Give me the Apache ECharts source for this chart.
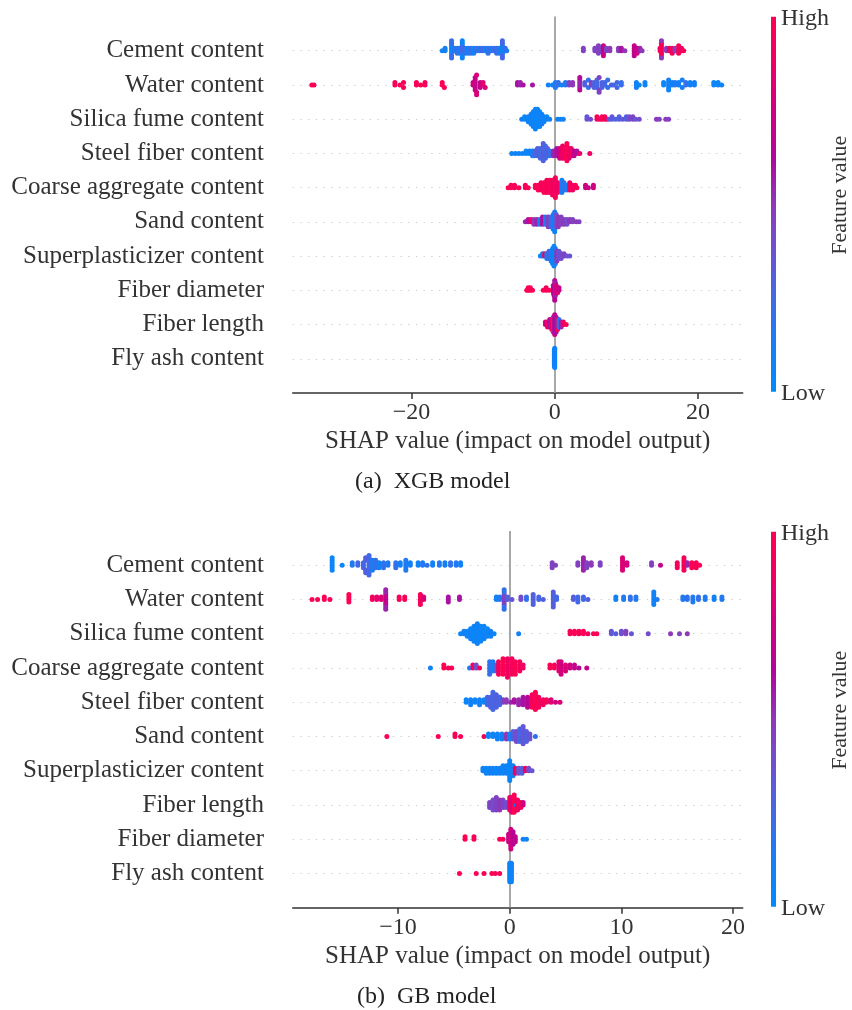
<!DOCTYPE html>
<html><head><meta charset="utf-8">
<script src="https://cdn.jsdelivr.net/npm/echarts@6/dist/echarts.min.js"></script>
<style>html,body{margin:0;padding:0;background:#fff}#main{width:852px;height:1010px}</style>
</head><body><div id="main"></div>
<script>
// ---------- labels ----------
const xgbFeatures = ['Cement content','Water content','Silica fume content','Steel fiber content','Coarse aggregate content','Sand content','Superplasticizer content','Fiber diameter','Fiber length','Fly ash content'];
const gbFeatures = ['Cement content','Water content','Silica fume content','Coarse aggregate content','Steel fiber content','Sand content','Superplasticizer content','Fiber length','Fiber diameter','Fly ash content'];
const xgbTicks = [-20, 0, 20];
const gbTicks = [-10, 0, 10, 20];
const xgbRange = [-36.57, 26.24];
const gbRange = [-19.43, 20.86];
const axisTitle = 'SHAP value (impact on model output)';
const captions = ['(a)\u2002XGB model', '(b)\u2002GB model'];
const colorbarLabels = ['High', 'Low', 'Feature value'];
const colorStops = ['#008bfc','#187ef5','#4468e5','#6c52d2','#8f38b8','#b0079c','#d0007f','#ec0066','#ff0052'];

// ---------- data: [SHAP value, normalised feature value, number of samples] ----------
const xgbCement = [[-15.7,.08,1],[-15.3,.12,2],[-14.4,.05,4],[-14.4,.22,4],[-14.0,.15,2],[-13.6,.22,3],[-13.2,.08,3],[-12.9,.25,4],[-12.9,.08,4],[-12.5,.2,3],[-12.1,.1,3],[-11.7,.22,3],[-11.3,.08,3],[-10.9,.2,2],[-10.5,.15,2],[-10.1,.25,2],[-9.7,.1,2],[-9.3,.2,3],[-8.9,.15,2],[-8.5,.22,2],[-8.1,.2,3],[-7.7,.15,3],[-7.3,.1,4],[-7.3,.25,4],[-6.9,.2,2],[-6.7,.15,1],
  [4.0,.45,2],[5.6,.45,2],[6.1,.45,4],[6.5,.45,2],[6.8,.72,5],[7.2,.45,2],[7.7,.5,2],[8.9,.5,2],[9.3,.6,2],[9.8,.5,1],[11.1,.68,5],[11.5,.75,3],[11.9,.55,2],[12.2,.5,1],[14.7,.92,2],[14.9,.97,6],[14.9,.5,2],[15.6,.5,2],[16.0,.9,2],[16.4,.97,3],[16.8,.45,2],[17.3,.97,4],[17.7,.9,2],[18.0,.97,1]];
const xgbWater = [[-33.9,1,1],[-33.6,.95,1],[-22.3,.95,2],[-21.6,1,1],[-21.1,.95,2],[-19.3,.95,2],[-18.7,1,1],[-18.1,.95,2],[-15.7,1,2],[-15.4,.95,1],
  [-11.4,.75,2],[-11.1,.7,6],[-10.9,.8,3],[-10.4,.7,3],[-10.0,.85,2],[-9.7,.8,1],[-5.2,.6,2],[-4.8,.55,2],[-4.4,.6,1],[-3.1,.6,1],
  [-0.9,.1,1],[-0.3,.1,1],[0.1,.15,2],[0.5,.2,2],[1.0,.1,1],[1.5,.15,2],[2.0,.45,2],[2.5,.5,2],[3.5,.55,4],[3.5,.65,2],
  [4.2,.3,2],[4.7,.2,2],[5.1,.45,2],[5.5,.3,3],[5.9,.25,4],[6.2,.45,3],[6.6,.3,3],[7.0,.25,2],[7.4,.2,2],[7.9,.3,1],[8.2,.25,1],[8.7,.25,2],[9.3,.2,2],
  [11.4,.1,3],[11.8,.05,1],[12.6,.08,2],[15.2,.05,2],[15.9,.08,5],[16.4,.1,2],[16.8,.15,2],[17.3,.1,2],[17.8,.12,2],[18.3,.2,2],[18.9,.1,2],[19.5,.12,2],[22.2,.05,2],[22.8,.08,2],[23.3,.05,1]];
const xgbSilica = [[-4.6,.1,1],[-4.2,.05,2],[-3.7,.08,3],[-3.3,.05,5],[-3.0,.1,7],[-2.7,.05,9],[-2.4,.08,8],[-2.1,.05,7],[-1.8,.1,5],[-1.5,.08,3],[-1.1,.05,2],[-0.7,.1,1],
  [0.4,.1,1],[0.8,.08,1],[1.2,.1,1],[4.5,.35,2],[5.0,.4,1],[5.9,.95,2],[6.3,.9,1],[6.6,1,2],[7.0,.95,2],[7.3,.9,1],
  [7.6,.3,1],[8.0,.35,2],[8.5,.25,1],[9.0,.3,2],[9.5,.35,1],[10.0,.3,2],[10.4,.4,2],[10.9,.45,2],[11.3,.35,1],[11.8,.4,1],[14.2,.5,1],[14.6,.45,1],[15.5,.5,1],[15.9,.45,1]];
const xgbSteel = [[-6.0,.05,1],[-5.5,.1,1],[-5.0,.05,1],[-4.5,.1,1],[-4.0,.08,2],[-3.5,.1,2],[-3.1,.05,3],
  [-2.8,.25,3],[-2.4,.3,4],[-2.0,.25,5],[-1.6,.3,8],[-1.3,.25,6],[-1.0,.3,4],[-0.7,.2,3],
  [-0.2,.55,3],[0.3,.6,4],[0.7,.75,5],[1.1,.9,6],[1.5,.95,5],[1.7,1,8],[2.0,.85,5],[2.3,.95,4],[2.7,.7,3],[3.1,.6,2],[3.5,.9,1],[4.9,.9,1]];
const xgbCoarse = [[-6.5,.95,1],[-6.1,1,2],[-5.6,.95,2],[-5.0,1,1],[-4.1,.95,2],[-3.7,1,1],
  [-2.7,.95,2],[-2.3,1,3],[-1.9,.9,4],[-1.5,1,5],[-1.1,.95,6],[-0.7,1,6],[-0.3,.9,7],[0.1,.95,9],[0.4,.9,5],
  [1.0,.1,6],[1.3,.2,4],[1.7,.1,3],[2.1,.95,4],[2.5,.9,3],[2.9,1,2],[3.1,.95,1],[4.3,.75,2],[4.7,.7,1],[5.4,.75,2]];
const xgbSand = [[-4.1,.55,1],[-3.7,.6,2],[-3.3,.9,2],[-2.9,.5,3],[-2.5,.55,3],[-2.1,.1,3],[-1.7,.6,4],[-1.3,.15,4],[-0.9,.45,5],[-0.5,.25,5],[-0.2,.05,7],[0.0,.1,9],[0.2,.35,6],[0.5,.5,5],[0.9,.45,4],[1.3,.5,3],[1.7,.4,3],[2.1,.5,2],[2.5,.45,2],[3.0,.5,1],[3.4,.45,1]];
const xgbSuper = [[-2.0,.1,1],[-1.7,.05,2],[-1.4,.95,2],[-1.1,.1,3],[-0.8,.3,4],[-0.5,.05,5],[-0.3,.1,7],[-0.1,.05,9],[0.1,.15,7],[0.3,.5,5],[0.6,.35,4],[0.9,.4,3],[1.3,.45,2],[1.7,.4,1],[2.1,.35,1]];
const xgbFiberDia = [[-3.9,1,1],[-3.7,.95,2],[-3.4,1,2],[-3.1,.95,1],[-1.6,1,1],[-1.2,.95,2],[-0.8,1,1],
  [-0.2,.6,4],[-0.1,.7,5],[0.0,.65,9],[0.1,.55,6],[0.2,.75,4],[0.4,.8,3],[0.6,.7,2]];
const xgbFiberLen = [[-1.3,.75,2],[-1.0,.9,3],[-0.7,.6,4],[-0.4,.95,5],[-0.2,.5,7],[0.0,.7,9],[0.2,.6,7],[0.4,.95,5],[0.6,.15,4],[0.9,.55,3],[1.2,.9,2],[1.6,1,1]];
const xgbFlyAsh = [[-0.05,.05,10],[0.0,.08,12]];

const gbCement = [[-15.9,.05,6],[-15.0,.05,1],[-14.1,.15,2],[-13.6,.25,2],[-13.1,.25,3],[-12.9,.3,4],[-12.6,.25,9],[-12.3,.15,5],[-12.0,.2,4],[-11.7,.1,3],[-11.3,.2,3],[-10.9,.15,2],
  [-10.2,.2,3],[-9.8,.1,2],[-9.3,.15,5],[-8.9,.1,2],[-8.2,.1,2],[-7.8,.15,2],[-7.4,.2,1],[-6.9,.1,2],[-6.3,.15,2],[-5.8,.1,2],[-5.3,.2,2],[-4.8,.15,2],[-4.4,.1,2],
  [3.8,.45,3],[4.1,.45,1],[6.1,.45,2],[6.6,.55,6],[6.9,.45,3],[7.3,.5,2],[8.1,.45,2],[10.1,.8,6],[10.5,.75,2],[12.7,.45,2],[13.5,.7,1],
  [15.0,.95,3],[15.6,.95,6],[15.9,.55,2],[16.3,1,3],[16.7,.95,3],[17.0,1,1]];
const gbWater = [[-17.7,1,1],[-17.2,.95,1],[-16.6,1,2],[-16.1,.95,1],[-14.4,1,4],[-12.3,.95,2],[-11.9,.85,2],[-11.5,.8,2],[-11.1,.7,5],[-11.1,.55,4],[-9.9,1,2],[-9.4,.95,2],[-8.0,.95,5],[-7.7,.8,2],
  [-5.5,.6,3],[-4.5,.6,2],[-1.2,.1,2],[-0.9,.15,2],[-0.5,.45,5],[-0.5,.2,4],[-0.2,.3,2],[0.2,.35,1],
  [1.0,.4,2],[1.5,.2,2],[2.1,.3,5],[2.6,.25,2],[3.0,.3,1],[3.9,.3,7],[4.2,.25,2],[5.7,.3,2],[6.1,.25,3],[6.6,.25,2],[7.0,.3,1],
  [9.5,.1,2],[10.2,.15,2],[10.8,.2,2],[11.3,.15,2],[12.9,.1,6],[13.2,.15,1],[15.5,.15,2],[15.9,.2,2],[16.4,.15,3],[16.9,.2,2],[17.5,.15,2],[18.3,.1,2],[19.0,.15,2]];
const gbSilica = [[-4.4,.05,1],[-4.1,.1,2],[-3.8,.05,3],[-3.5,.08,5],[-3.2,.05,7],[-2.9,.1,9],[-2.6,.05,7],[-2.3,.08,6],[-2.0,.05,4],[-1.7,.1,3],[-1.4,.05,1],[0.8,.1,1],
  [5.4,.95,2],[5.8,1,2],[6.2,.95,2],[6.6,1,2],[7.0,.9,1],[7.5,.95,1],[7.8,1,1],[9.1,.35,2],[9.5,.3,1],[10.0,.4,2],[10.4,.45,2],[10.9,.35,1],[12.4,.4,1],[14.4,.5,1],[15.2,.45,1],[15.9,.5,1]];
const gbCoarse = [[-7.1,.1,1],[-5.9,1,2],[-5.5,.95,1],[-5.2,1,1],[-3.6,.1,1],[-3.3,.95,2],[-3.0,.4,2],[-2.7,1,1],
  [-1.8,.2,5],[-1.5,.1,4],[-1.2,.3,3],[-1.0,.95,5],[-0.6,1,6],[-0.2,.9,7],[0.2,.95,6],[0.5,1,5],[0.9,.95,4],[1.2,.9,2],
  [3.6,1,2],[4.0,.95,2],[4.4,.85,4],[4.6,.75,5],[5.0,.8,3],[5.4,.75,2],[5.8,.7,2],[6.2,.65,1],[6.9,.7,1]];
const gbSteel = [[-3.9,.05,2],[-3.5,.1,3],[-3.1,.05,2],[-2.7,.1,3],[-2.3,.05,2],[-2.0,.25,4],[-1.7,.3,5],[-1.5,.25,8],[-1.2,.3,6],[-0.9,.25,4],
  [-0.6,.45,2],[-0.3,.5,2],[0.1,.55,1],[0.4,.6,2],[0.8,.55,3],[1.2,.6,4],[1.6,.65,5],[2.0,.95,6],[2.3,1,8],[2.6,.95,5],[3.0,.9,3],[3.3,.95,2],[3.7,.8,2],[4.1,.75,1],[4.5,.8,1]];
const gbSand = [[-11.0,1,1],[-6.4,1,1],[-4.9,.95,2],[-4.4,1,1],[-2.3,.95,1],[-1.9,.05,2],[-1.5,.1,2],[-1.1,.05,3],[-0.7,.1,3],[-0.3,.5,3],[0.0,.1,3],
  [0.3,.3,4],[0.6,.4,5],[0.9,.25,6],[1.2,.35,8],[1.5,.3,5],[1.8,.35,3],[2.3,.2,1]];
const gbSuper = [[-2.4,.1,2],[-2.1,.05,3],[-1.8,.1,3],[-1.5,.08,3],[-1.2,.05,3],[-0.9,.1,3],[-0.6,.05,4],[-0.3,.1,4],[0.0,.05,9],[0.3,.1,5],[0.5,.95,3],[0.8,.35,3],[1.1,.3,3],[1.4,.95,2],[1.7,.4,2],[2.0,.35,1]];
const gbFiberLen = [[-1.8,.45,3],[-1.5,.4,5],[-1.2,.45,6],[-0.9,.5,5],[-0.6,.45,4],[-0.3,.4,3],[0.0,.95,6],[0.2,.8,7],[0.4,1,8],[0.6,.1,1],[0.7,.9,5],[1.0,.95,3],[1.2,.75,2]];
const gbFiberDia = [[-4.0,1,2],[-3.2,.95,2],[-0.9,1,1],[-0.6,.95,1],[-0.1,.7,4],[0.1,.75,9],[0.3,.65,6],[0.5,.7,3],[1.2,.1,1],[1.5,.05,1]];
const gbFlyAsh = [[-4.5,1,1],[-3.0,1,1],[-2.3,.95,1],[-1.6,1,1],[-1.3,.95,1],[-0.9,1,1],[0.0,.05,10],[0.15,.08,10]];

const xgbRows = [xgbCement, xgbWater, xgbSilica, xgbSteel, xgbCoarse, xgbSand, xgbSuper, xgbFiberDia, xgbFiberLen, xgbFlyAsh];
const gbRows = [gbCement, gbWater, gbSilica, gbCoarse, gbSteel, gbSand, gbSuper, gbFiberLen, gbFiberDia, gbFlyAsh];

// ---------- beeswarm layout (same binning as shap's summary plot) ----------
function beeswarm(groups, rowPos) {
  const pts = [];
  groups.forEach(g => { for (let k = 0; k < g[2]; k++) pts.push([g[0], g[1]]); });
  const xs = pts.map(p => p[0]);
  const mn = Math.min(...xs), mx = Math.max(...xs);
  const quant = xs.map(x => Math.round(100 * (x - mn) / (mx - mn + 1e-8)));
  const order = pts.map((p, i) => i).sort((a, b) => quant[a] - quant[b] || a - b);
  const ys = new Array(pts.length).fill(0);
  let layer = 0, last = -1;
  for (const i of order) {
    if (quant[i] !== last) layer = 0;
    ys[i] = Math.ceil(layer / 2) * ((layer % 2) * 2 - 1);
    layer++; last = quant[i];
  }
  const scale = 0.9 * (0.4 / (Math.max(...ys) + 1));
  return pts.map((p, i) => [p[0], rowPos + ys[i] * scale, p[1]]);
}
function panelData(rows) {
  let out = [];
  rows.forEach((r, idx) => { out = out.concat(beeswarm(r, rows.length - 1 - idx)); });
  return out;
}

const FONT = '"Liberation Serif", "Times New Roman", serif';
const TXT = '#333333';
const GRID_LEFT = 292.7, GRID_W = 450;
const grids = [{left: GRID_LEFT, top: 16.5, width: GRID_W, height: 376.5}, {left: GRID_LEFT, top: 531, width: GRID_W, height: 376.7}];
const minus = v => v < 0 ? '\u2212' + Math.abs(v) : String(v);

function xAxisFor(i, range, ticks) {
  return {
    gridIndex: i, type: 'value', min: range[0], max: range[1],
    axisLine: {show: true, onZero: false, lineStyle: {color: TXT, width: 1.5}},
    axisTick: {show: true, customValues: ticks, length: 6, lineStyle: {color: TXT, width: 1.5}},
    axisLabel: {customValues: ticks, formatter: minus, color: TXT, fontSize: 24, fontFamily: FONT, margin: 8},
    splitLine: {show: false},
    name: axisTitle, nameLocation: 'middle', nameGap: 36,
    nameTextStyle: {color: TXT, fontSize: 25, fontFamily: FONT}
  };
}
function yAxisFor(i, names) {
  return {
    gridIndex: i, type: 'value', min: -1, max: 10, interval: 1,
    axisLine: {show: false}, axisTick: {show: false}, splitLine: {show: false},
    axisLabel: {
      formatter: v => (v >= 0 && v <= 9) ? names[9 - v] : '',
      color: TXT, fontSize: 25, fontFamily: FONT, margin: 28.7,
      showMinLabel: true, showMaxLabel: true
    }
  };
}
function seriesFor(i, rows) {
  const lines = rows.map((r, k) => ({yAxis: k, lineStyle: {color: '#cccccc', width: 1.2, type: [1.3, 6.4]}}));
  lines.push({xAxis: 0, lineStyle: {color: '#999999', width: 1.7, type: 'solid'}});
  return {
    type: 'scatter', xAxisIndex: i, yAxisIndex: i, z: 10,
    symbolSize: 5, itemStyle: {opacity: 1},
    data: panelData(rows), silent: true, animation: false,
    markLine: {silent: true, symbol: 'none', z: 1, label: {show: false}, animation: false, emphasis: {disabled: true}, data: lines}
  };
}

const gradStops = colorStops.map((c, k) => ({offset: k / (colorStops.length - 1), color: c}));
function colorbar(top) {
  return [
    {type: 'rect', shape: {x: 771, y: top, width: 5, height: 375}, style: {fill: new echarts.graphic.LinearGradient(0, 1, 0, 0, gradStops)}},
    {type: 'text', x: 781, y: top + 1.6, style: {text: colorbarLabels[0], font: '24px ' + FONT, fill: TXT, verticalAlign: 'middle'}},
    {type: 'text', x: 781, y: top + 377.3, style: {text: colorbarLabels[1], font: '24px ' + FONT, fill: TXT, verticalAlign: 'middle'}},
    {type: 'text', x: 840.6, y: top + 178.5, rotation: Math.PI / 2, style: {text: colorbarLabels[2], font: '22px ' + FONT, fill: TXT, align: 'center', verticalAlign: 'middle'}}
  ];
}

const chart = echarts.init(document.getElementById('main'), null, {renderer: 'canvas'});
chart.setOption({
  animation: false,
  backgroundColor: '#ffffff',
  grid: grids,
  xAxis: [xAxisFor(0, xgbRange, xgbTicks), xAxisFor(1, gbRange, gbTicks)],
  yAxis: [yAxisFor(0, xgbFeatures), yAxisFor(1, gbFeatures)],
  visualMap: {type: 'continuous', show: false, min: 0, max: 1, dimension: 2, seriesIndex: [0, 1], inRange: {color: colorStops}},
  series: [seriesFor(0, xgbRows), seriesFor(1, gbRows)],
  graphic: [].concat(colorbar(16.7), colorbar(531.7), [
    {type: 'text', x: 355, y: 482, style: {text: captions[0], font: '24px ' + FONT, fill: '#222', verticalAlign: 'middle'}},
    {type: 'text', x: 357, y: 997, style: {text: captions[1], font: '24px ' + FONT, fill: '#222', verticalAlign: 'middle'}}
  ])
});
</script>
</body></html>
